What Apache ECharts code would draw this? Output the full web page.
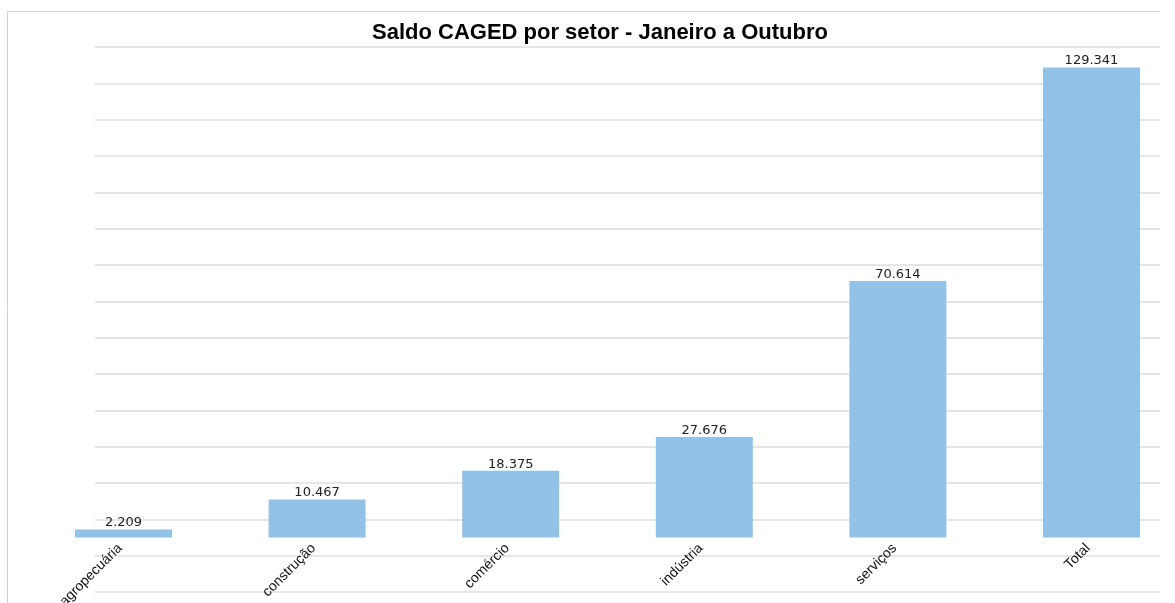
<!DOCTYPE html>
<html>
<head>
<meta charset="utf-8">
<script src="https://cdn.jsdelivr.net/npm/echarts@6/dist/echarts.min.js"></script>
<style>
  html, body { margin: 0; padding: 0; background: #fff; }
  #chart { width: 1175px; height: 603px; }
</style>
</head>
<body>
<div id="chart"></div>
<script>
const setores = ["agropecuária", "construção", "comércio", "indústria", "serviços", "Total"];
const saldo = [2209, 10467, 18375, 27676, 70614, 129341];
// linhas de fundo (15 faixas iguais)
const fundoMax = 15;

const fmt = v => v.toLocaleString("pt-BR");

const chart = echarts.init(document.getElementById("chart"));
chart.setOption({
    animation: false,
    title: {
        text: "Saldo CAGED por setor - Janeiro a Outubro",
        left: 367,
        top: 17,
        textStyle: {
            fontFamily: "Liberation Sans",
            fontWeight: "bold",
            fontSize: 22,
            color: "#000"
        }
    },
    graphic: [
        {
            type: "polyline",
            shape: { points: [[7.5, 603], [7.5, 11.5], [1160, 11.5]] },
            style: { stroke: "#cfcfcf", lineWidth: 1, fill: null },
            z: 0
        }
    ],
    grid: [
        { left: 95, right: 15, top: 47, bottom: 11, outerBoundsMode: "none", containLabel: false },
        { left: 123.5, width: 968, top: 47, bottom: 65.5, outerBoundsMode: "none", containLabel: false }
    ],
    xAxis: [
        {
            gridIndex: 0, type: "value", show: false
        },
        {
            gridIndex: 1,
            type: "category",
            data: setores,
            boundaryGap: false,
            axisLine: { show: false },
            axisTick: { show: false },
            axisLabel: {
                rotate: 45,
                margin: 5,
                interval: 0,
                padding: [0, 5, 0, 0],
                fontFamily: "Liberation Sans",
                fontSize: 14,
                color: "#111"
            }
        }
    ],
    yAxis: [
        {
            gridIndex: 0,
            type: "value",
            min: 0,
            max: fundoMax,
            interval: 1,
            axisLine: { show: false },
            axisTick: { show: false },
            axisLabel: { show: false },
            splitLine: { lineStyle: { color: "#e6e6e6", width: 2 } }
        },
        {
            gridIndex: 1,
            type: "value",
            min: 0,
            max: 135000,
            show: false,
            splitLine: { show: false }
        }
    ],
    series: [
        {
            type: "bar",
            xAxisIndex: 1,
            yAxisIndex: 1,
            data: saldo,
            barWidth: 97,
            itemStyle: { color: "#93c2e8" },
            label: {
                show: true,
                position: "top",
                distance: 0,
                formatter: p => fmt(p.value),
                fontFamily: "DejaVu Sans",
                fontSize: 13,
                color: "#222"
            }
        }
    ]
});
</script>
</body>
</html>
